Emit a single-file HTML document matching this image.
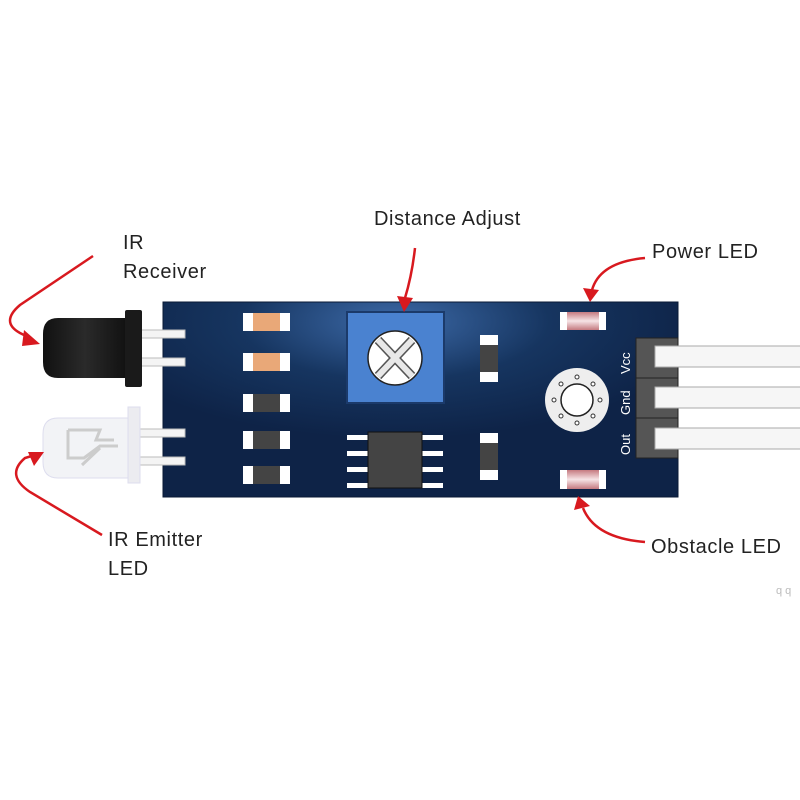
<!DOCTYPE html>
<html><head><meta charset="utf-8"><style>
html,body{margin:0;padding:0;background:#fff;}
svg{display:block;}
text{font-family:"Liberation Sans",sans-serif;fill:#222;}
</style></head><body>
<svg width="800" height="800" viewBox="0 0 800 800" xmlns="http://www.w3.org/2000/svg">
<defs>
<radialGradient id="bg" cx="0.45" cy="0.1" r="0.6">
<stop offset="0" stop-color="#3d6aa8"/><stop offset="0.5" stop-color="#163560"/><stop offset="1" stop-color="#0e2347"/>
</radialGradient>
<linearGradient id="rx" x1="0" y1="0" x2="1" y2="0"><stop offset="0" stop-color="#111"/><stop offset="0.5" stop-color="#2a2a2a"/><stop offset="1" stop-color="#111"/></linearGradient>
<linearGradient id="led" x1="0" y1="0" x2="0" y2="1"><stop offset="0" stop-color="#c57a80"/><stop offset="0.5" stop-color="#f6e4e6"/><stop offset="1" stop-color="#c57a80"/></linearGradient>
</defs>
<!-- board -->
<rect x="163" y="302" width="515" height="195" fill="url(#bg)" stroke="#0a1a35"/>
<!-- pins -->
<g fill="#f4f4f4" stroke="#bbb" stroke-width="1">
<rect x="140" y="330" width="45" height="8"/><rect x="140" y="358" width="45" height="8"/>
<rect x="138" y="429" width="47" height="8"/><rect x="138" y="457" width="47" height="8"/>
</g>
<!-- receiver -->
<path d="M58,318 H127 V378 H58 Q43,378 43,362 V334 Q43,318 58,318Z" fill="url(#rx)"/>
<rect x="125" y="310" width="17" height="77" rx="2" fill="#1a1a1a"/>
<!-- emitter -->
<path d="M58,418 H130 V478 H58 Q43,478 43,462 V434 Q43,418 58,418Z" fill="#f2f3f6" stroke="#dde" />
<rect x="128" y="407" width="12" height="76" fill="#ececf0" stroke="#dde"/>
<path d="M68,430 H100 L96,440 H114 M68,430 V458 H84 L100,446 H118 M82,465 L100,448" fill="none" stroke="#ccc" stroke-width="3"/>
<!-- left smds -->
<g>
<rect x="243" y="313" width="47" height="18" fill="#fff"/><rect x="253" y="313" width="27" height="18" fill="#e9a878"/>
<rect x="243" y="353" width="47" height="18" fill="#fff"/><rect x="253" y="353" width="27" height="18" fill="#e9a878"/>
<rect x="243" y="394" width="47" height="18" fill="#fff"/><rect x="253" y="394" width="27" height="18" fill="#444"/>
<rect x="243" y="431" width="47" height="18" fill="#fff"/><rect x="253" y="431" width="27" height="18" fill="#444"/>
<rect x="243" y="466" width="47" height="18" fill="#fff"/><rect x="253" y="466" width="27" height="18" fill="#444"/>
</g>
<!-- pot -->
<rect x="347" y="312" width="97" height="91" fill="#4a82d0" stroke="#1b3a6a" stroke-width="2"/>
<circle cx="395" cy="358" r="27" fill="#fff" stroke="#222" stroke-width="1.5"/>
<g stroke="#555" stroke-width="9"><line x1="378" y1="340" x2="412" y2="376"/><line x1="412" y1="340" x2="378" y2="376"/></g>
<g stroke="#e8e8e8" stroke-width="6"><line x1="378" y1="340" x2="412" y2="376"/><line x1="412" y1="340" x2="378" y2="376"/></g>
<!-- IC -->
<g fill="#fff"><rect x="347" y="435" width="21" height="5"/><rect x="347" y="451" width="21" height="5"/><rect x="347" y="467" width="21" height="5"/><rect x="347" y="483" width="21" height="5"/>
<rect x="422" y="435" width="21" height="5"/><rect x="422" y="451" width="21" height="5"/><rect x="422" y="467" width="21" height="5"/><rect x="422" y="483" width="21" height="5"/></g>
<rect x="368" y="432" width="54" height="56" fill="#444" stroke="#111"/>
<!-- vertical smds -->
<rect x="480" y="335" width="18" height="47" fill="#fff"/><rect x="480" y="345" width="18" height="27" fill="#444"/>
<rect x="480" y="433" width="18" height="47" fill="#fff"/><rect x="480" y="443" width="18" height="27" fill="#444"/>
<!-- LEDs -->
<rect x="560" y="312" width="46" height="18" fill="#fff"/><rect x="567" y="312" width="32" height="18" fill="url(#led)"/>
<rect x="560" y="470" width="46" height="19" fill="#fff"/><rect x="567" y="470" width="32" height="19" fill="url(#led)"/>
<!-- hole -->
<circle cx="577" cy="400" r="32" fill="#eee"/>
<circle cx="577" cy="400" r="16" fill="#fff" stroke="#222" stroke-width="1.5"/>
<g fill="#fff" stroke="#333"><circle cx="577" cy="377" r="2"/><circle cx="577" cy="423" r="2"/><circle cx="554" cy="400" r="2"/><circle cx="600" cy="400" r="2"/><circle cx="561" cy="384" r="2"/><circle cx="593" cy="384" r="2"/><circle cx="561" cy="416" r="2"/><circle cx="593" cy="416" r="2"/></g>
<!-- header -->
<rect x="636" y="338" width="42" height="40" fill="#555" stroke="#222"/>
<rect x="636" y="378" width="42" height="40" fill="#555" stroke="#222"/>
<rect x="636" y="418" width="42" height="40" fill="#555" stroke="#222"/>
<g fill="#f6f6f6" stroke="#aaa"><rect x="655" y="346" width="150" height="21"/><rect x="655" y="387" width="150" height="21"/><rect x="655" y="428" width="150" height="21"/></g>
<g font-size="13">
<text transform="translate(630,374) rotate(-90)" style="fill:#fff">Vcc</text>
<text transform="translate(630,415) rotate(-90)" style="fill:#fff">Gnd</text>
<text transform="translate(630,455) rotate(-90)" style="fill:#fff">Out</text>
</g>
<!-- arrows -->
<g fill="none" stroke="#d8191f" stroke-width="2.5">
<path d="M415,248 Q412,275 405,298"/>
<path d="M93,256 L20,305 Q0,322 20,333 L30,338"/>
<path d="M645,258 Q600,262 592,290"/>
<path d="M645,542 Q595,538 583,508"/>
<path d="M102,535 L30,492 Q5,475 25,458 L35,455"/>
</g>
<g fill="#d8191f">
<polygon points="397,296 413,298 404,312"/>
<polygon points="24,330 40,344 22,346"/>
<polygon points="583,288 599,290 590,302"/>
<polygon points="574,510 590,506 578,496"/>
<polygon points="28,452 44,452 34,466"/>
</g>
<!-- labels -->
<g font-size="20" letter-spacing="0.6">
<text x="374" y="225">Distance Adjust</text>
<text x="123" y="249">IR</text>
<text x="123" y="278">Receiver</text>
<text x="652" y="258">Power LED</text>
<text x="651" y="553">Obstacle LED</text>
<text x="108" y="546">IR Emitter</text>
<text x="108" y="575">LED</text>
</g>
<text x="776" y="594" font-size="11" style="fill:#bbb">q q</text>
</svg>
</body></html>
